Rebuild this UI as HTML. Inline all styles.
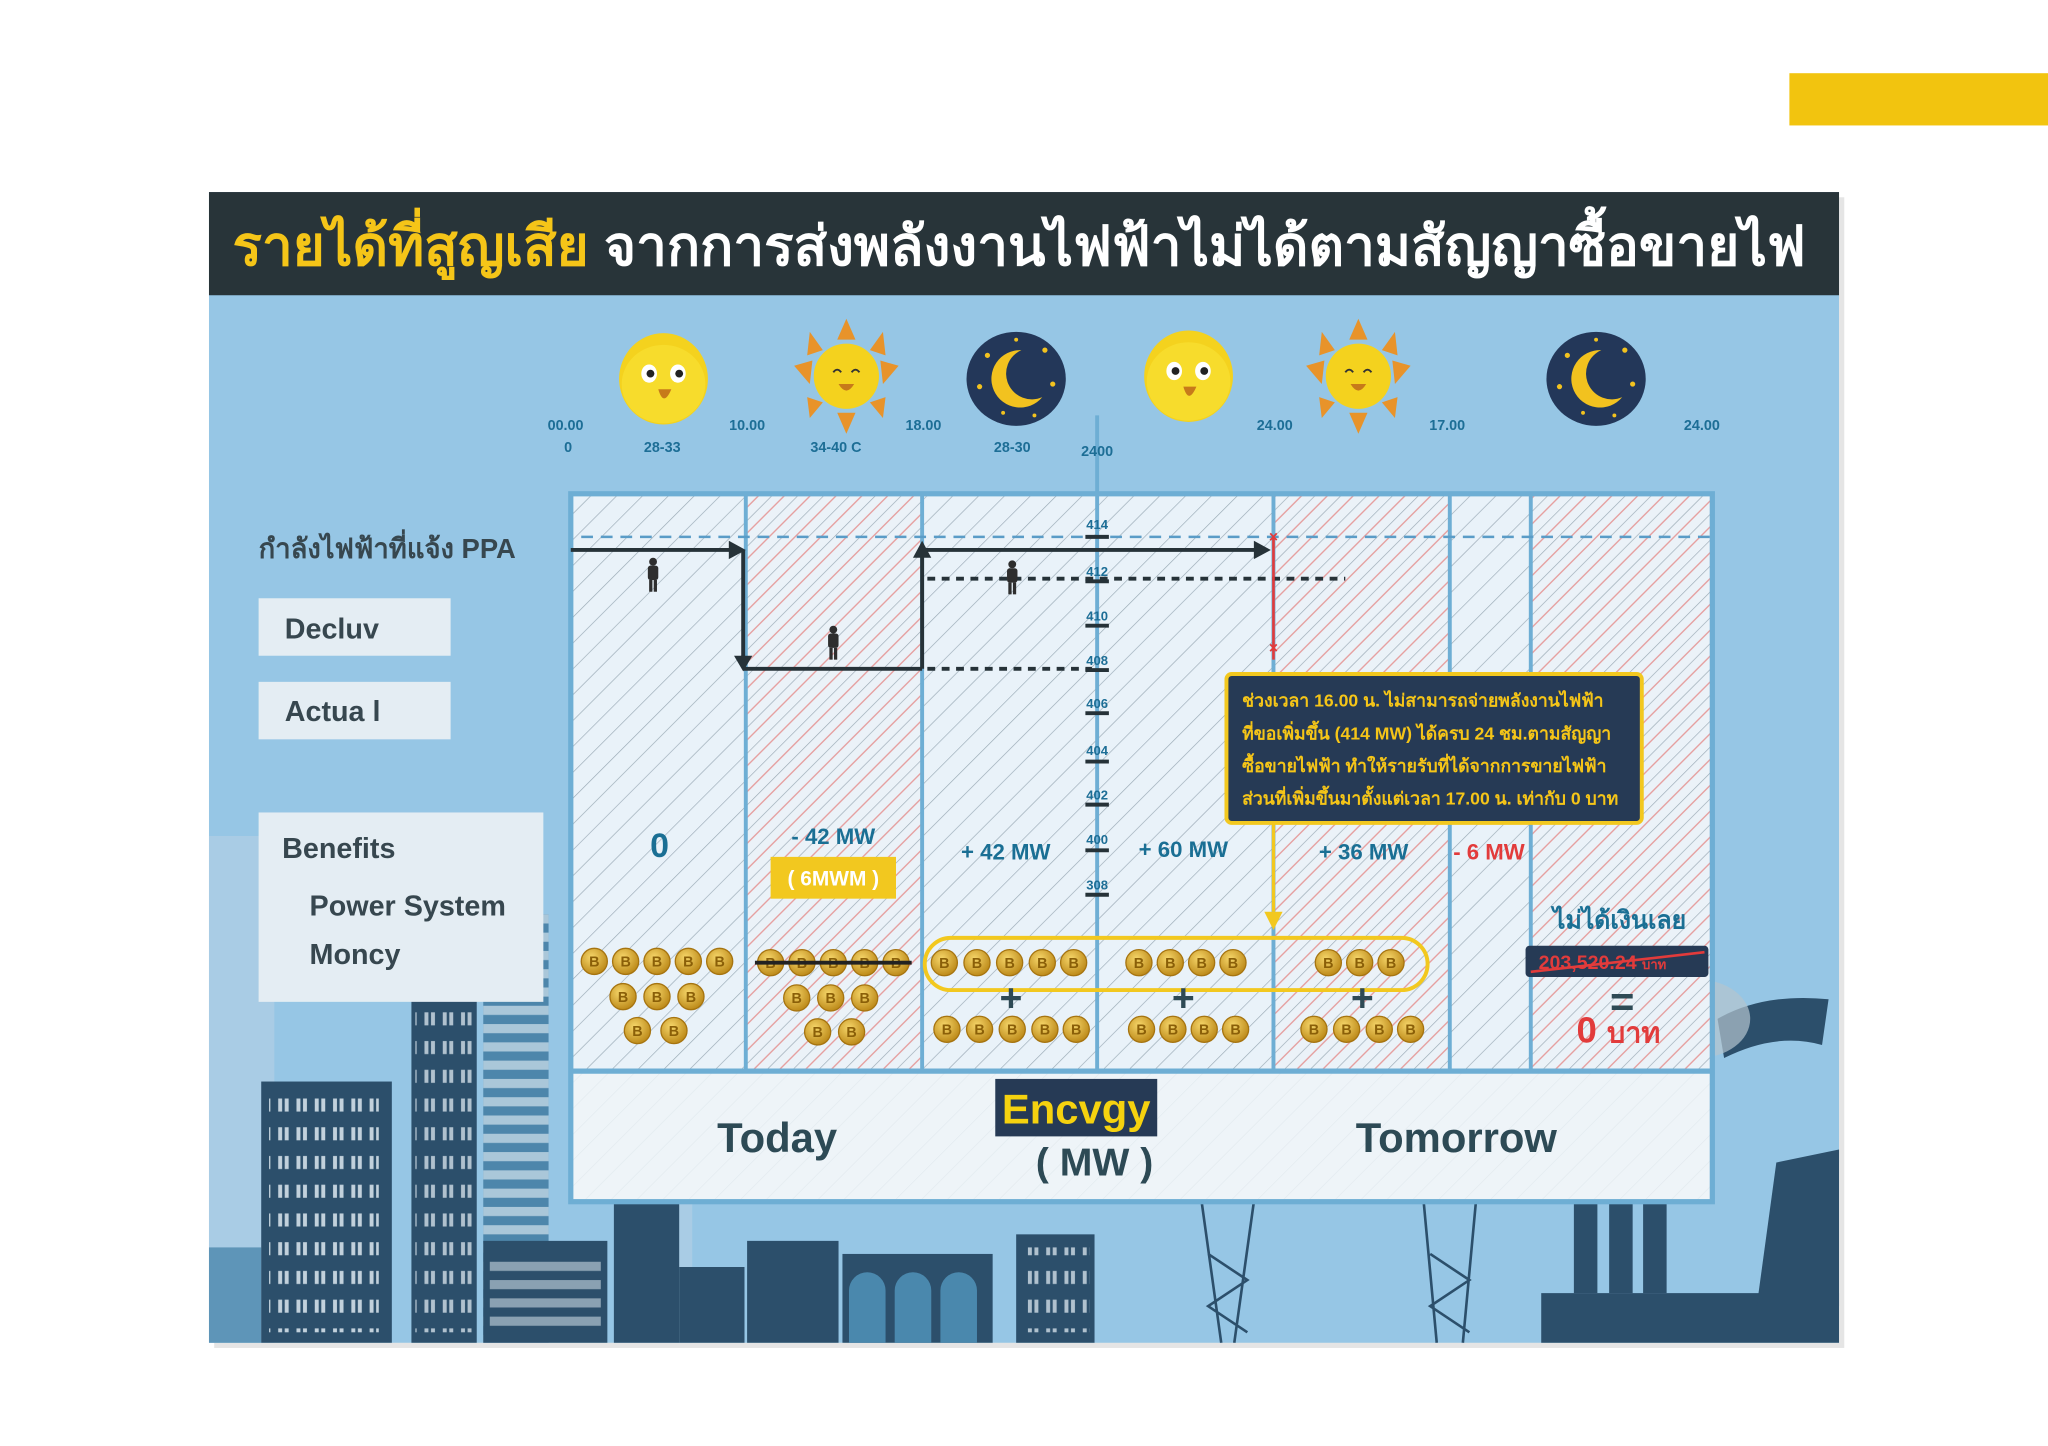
<!DOCTYPE html>
<html><head><meta charset="utf-8">
<style>
html,body{margin:0;padding:0;background:#fff;width:2048px;height:1446px;overflow:hidden}
svg{display:block}
text{font-family:"Liberation Sans Narrow","Liberation Sans","Noto Sans CJK SC",sans-serif;font-weight:bold}
</style></head><body>
<svg width="2048" height="1446" viewBox="0 0 1568 1107" xmlns="http://www.w3.org/2000/svg">
<defs>
<pattern id="hg" width="14" height="14" patternUnits="userSpaceOnUse" patternTransform="rotate(45)">
<rect width="14" height="14" fill="#e9f2f9"/><line x1="0" y1="0" x2="0" y2="14" stroke="#9aaab5" stroke-width="1"/></pattern>
<pattern id="hr" width="14" height="14" patternUnits="userSpaceOnUse" patternTransform="rotate(45)">
<rect width="14" height="14" fill="#ebf2f8"/><line x1="0" y1="0" x2="0" y2="14" stroke="#9aaab5" stroke-width="1"/><line x1="7" y1="0" x2="7" y2="14" stroke="#e59a9a" stroke-width="1"/></pattern>
<pattern id="win" width="14" height="22" patternUnits="userSpaceOnUse"><rect x="3" y="5" width="3" height="10" fill="#e8f2f8"/><rect x="8" y="5" width="3" height="10" fill="#e8f2f8"/></pattern>
<pattern id="stripe" width="10" height="14" patternUnits="userSpaceOnUse"><rect width="10" height="7" fill="#e8f2f8"/></pattern>
<radialGradient id="cg" cx="0.4" cy="0.35" r="0.7"><stop offset="0" stop-color="#f6d66a"/><stop offset="1" stop-color="#b98514"/></radialGradient>
<g id="coin"><circle r="10" fill="url(#cg)" stroke="#a67410" stroke-width="1"/><text x="0" y="4" font-size="11" fill="#8a5f08" text-anchor="middle">B</text></g>
<g id="sm"><ellipse rx="34" ry="35" fill="#f4d21e"/><ellipse cx="0" cy="4" rx="32" ry="30" fill="#f7dc2c"/><ellipse cx="-11" cy="-4" rx="6" ry="7" fill="#fff"/><ellipse cx="11" cy="-4" rx="6" ry="7" fill="#fff"/><circle cx="-10" cy="-4" r="3" fill="#222"/><circle cx="12" cy="-4" r="3" fill="#222"/><path d="M-4 8 Q0 22 6 8 Z" fill="#c77a1a"/></g>
<g id="sun"><g fill="#e8932a"><polygon points="0,-44 -7,-28 7,-28"/><polygon points="0,44 -7,28 7,28"/><polygon points="-40,-8 -26,-12 -28,6"/><polygon points="40,-8 26,-12 28,6"/><polygon points="-28,-34 -18,-20 -30,-16"/><polygon points="28,-34 18,-20 30,-16"/><polygon points="-28,32 -18,20 -30,16"/><polygon points="28,32 18,20 30,16"/></g><circle r="25" fill="#f4d21e"/><path d="M-10 -3 q3 -4 6 0 M4 -3 q3 -4 6 0" stroke="#333" stroke-width="1.5" fill="none"/><path d="M-6 6 Q0 16 6 6 Z" fill="#c77a1a"/></g>
<g id="moon"><ellipse rx="38" ry="36" fill="#233759"/><path d="M4 -22 A22 22 0 1 0 20 14 A18 18 0 1 1 4 -22 Z" fill="#f2c21f"/><g fill="#f2c21f"><circle cx="-22" cy="-18" r="2"/><circle cx="22" cy="-22" r="2"/><circle cx="28" cy="4" r="2"/><circle cx="-28" cy="6" r="2"/><circle cx="-10" cy="26" r="1.5"/><circle cx="14" cy="28" r="1.5"/><circle cx="0" cy="-30" r="1.5"/></g></g>
<g id="man" fill="#2e2e2e"><circle cx="0" cy="-10" r="3"/><rect x="-4" y="-7" width="8" height="11" rx="2"/><rect x="-3" y="4" width="2.5" height="9"/><rect x="0.5" y="4" width="2.5" height="9"/></g>
</defs>

<rect x="1370" y="56" width="198" height="40" fill="#f2c40f"/>
<rect x="164" y="151" width="1248" height="881" fill="#ccc" opacity="0.5"/>
<rect x="160" y="147" width="1248" height="881" fill="#96c6e5"/>
<rect x="160" y="147" width="1248" height="79" fill="#283439"/>
<text x="178" y="203" font-size="42" fill="#f5c518">รายได้ที่สูญเสีย <tspan fill="#fff">จากการส่งพลังงานไฟฟ้าไม่ได้ตามสัญญาซื้อขายไฟ</tspan></text>

<!-- background city -->
<g fill="#a9cce5">
<rect x="160" y="640" width="50" height="388"/><rect x="470" y="800" width="60" height="228"/>
</g>
<rect x="160" y="955" width="40" height="73" fill="#5e95b8"/>
<rect x="370" y="700" width="50" height="328" fill="#4d86ab"/><rect x="370" y="700" width="50" height="328" fill="url(#stripe)" opacity="0.6"/>
<g fill="#2c4f6b">
<rect x="200" y="828" width="100" height="200"/><rect x="315" y="750" width="50" height="278"/><rect x="370" y="950" width="95" height="78"/><rect x="470" y="920" width="50" height="108"/>
<rect x="520" y="970" width="50" height="58"/><rect x="572" y="950" width="70" height="78"/><rect x="645" y="960" width="115" height="68"/><rect x="778" y="945" width="60" height="83"/>
<rect x="1180" y="990" width="228" height="38"/><rect x="1205" y="900" width="18" height="90"/><rect x="1232" y="900" width="18" height="90"/><rect x="1258" y="900" width="18" height="90"/>
<polygon points="1345,1000 1360,890 1408,880 1408,1000"/>
</g>
<rect x="206" y="840" width="84" height="180" fill="url(#win)" opacity="0.8"/>
<rect x="318" y="760" width="44" height="260" fill="url(#win)" opacity="0.7"/>
<rect x="375" y="960" width="85" height="60" fill="url(#stripe)" opacity="0.5"/>
<rect x="782" y="955" width="52" height="65" fill="url(#win)" opacity="0.7"/>
<g fill="#4a88ad"><path d="M650 1028 v-40 a14 14 0 0 1 28 0 v40 z M685 1028 v-40 a14 14 0 0 1 28 0 v40 z M720 1028 v-40 a14 14 0 0 1 28 0 v40 z"/></g>
<g stroke="#2c4f6b" stroke-width="2" fill="none"><path d="M920 920 L935 1028 M960 920 L945 1028 M925 960 L955 980 L925 1000 L955 1020"/><path d="M1090 920 L1100 1028 M1130 920 L1120 1028 M1095 960 L1125 980 L1095 1000 L1125 1020"/></g>
<path d="M1315 780 Q1350 760 1400 765 L1395 800 Q1360 790 1320 810 Z" fill="#2c4f6b"/>
<ellipse cx="1300" cy="780" rx="40" ry="30" fill="#b4c4cf" opacity="0.7"/>

<!-- chart box -->
<rect x="437" y="378" width="874" height="542" fill="url(#hg)"/>
<rect x="571" y="378" width="135" height="442" fill="url(#hr)"/>
<rect x="975" y="378" width="135" height="442" fill="url(#hr)"/>
<rect x="1172" y="378" width="139" height="442" fill="url(#hr)"/>
<rect x="437" y="820" width="874" height="100" fill="#eef4f8" opacity="0.85"/>
<rect x="437" y="378" width="874" height="542" fill="none" stroke="#6eaed4" stroke-width="4"/>
<line x1="437" y1="820" x2="1311" y2="820" stroke="#6eaed4" stroke-width="4"/>
<g stroke="#6eaed4" stroke-width="3">
<line x1="571" y1="378" x2="571" y2="820"/><line x1="706" y1="378" x2="706" y2="820"/><line x1="975" y1="378" x2="975" y2="820"/><line x1="1110" y1="378" x2="1110" y2="820"/><line x1="1172" y1="378" x2="1172" y2="820"/>
<line x1="840" y1="318" x2="840" y2="820"/>
</g>
<line x1="445" y1="411" x2="1311" y2="411" stroke="#5a9cc7" stroke-width="2" stroke-dasharray="9,6"/>

<use href="#sm" x="508" y="290"/><use href="#sun" x="648" y="288"/><use href="#moon" x="778" y="290"/><use href="#sm" x="910" y="288"/><use href="#sun" x="1040" y="288"/><use href="#moon" x="1222" y="290"/>
<g font-size="11" fill="#1d6e96" text-anchor="middle">
<text x="433" y="329">00.00</text><text x="435" y="346">0</text><text x="507" y="346">28-33</text><text x="572" y="329">10.00</text><text x="640" y="346">34-40 C</text><text x="707" y="329">18.00</text><text x="775" y="346">28-30</text><text x="840" y="349">2400</text><text x="976" y="329">24.00</text><text x="1108" y="329">17.00</text><text x="1303" y="329">24.00</text>
</g>

<g stroke="#263238" stroke-width="3"><line x1="831" y1="411" x2="849" y2="411"/><line x1="831" y1="445" x2="849" y2="445"/><line x1="831" y1="479" x2="849" y2="479"/><line x1="831" y1="513" x2="849" y2="513"/><line x1="831" y1="546" x2="849" y2="546"/><line x1="831" y1="583" x2="849" y2="583"/><line x1="831" y1="616" x2="849" y2="616"/><line x1="831" y1="651" x2="849" y2="651"/><line x1="831" y1="685" x2="849" y2="685"/></g>
<g font-size="10" fill="#1d6e96" text-anchor="middle"><text x="840" y="405">414</text><text x="840" y="441">412</text><text x="840" y="475">410</text><text x="840" y="509">408</text><text x="840" y="542">406</text><text x="840" y="578">404</text><text x="840" y="612">402</text><text x="840" y="646">400</text><text x="840" y="681">308</text></g>

<g stroke="#263238" stroke-width="3" fill="none">
<polyline points="437,421 560,421"/><polyline points="569,421 569,503"/><polyline points="569,512 706,512"/><polyline points="706,512 706,425"/><polyline points="706,421 962,421"/>
</g>
<g fill="#263238"><polygon points="558,414 571,421 558,428"/><polygon points="562,502 569,514 576,502"/><polygon points="699,427 706,414 713,427"/><polygon points="960,414 973,421 960,428"/></g>
<g stroke="#263238" stroke-width="3" stroke-dasharray="6,5"><line x1="710" y1="512" x2="836" y2="512"/><line x1="710" y1="443" x2="1030" y2="443"/></g>
<use href="#man" x="500" y="440"/><use href="#man" x="638" y="492"/><use href="#man" x="775" y="442"/>

<line x1="975" y1="411" x2="975" y2="505" stroke="#e23b3b" stroke-width="2"/>
<text x="975" y="415" font-size="12" fill="#e23b3b" text-anchor="middle">×</text><text x="975" y="500" font-size="12" fill="#e23b3b" text-anchor="middle">×</text>
<line x1="975" y1="628" x2="975" y2="698" stroke="#f2c81f" stroke-width="2.5"/>
<polygon points="968,698 982,698 975,712" fill="#f2c81f"/>

<rect x="939" y="516" width="318" height="114" rx="4" fill="#263a55" stroke="#f2c81f" stroke-width="3"/>
<g font-size="13.5" fill="#f5c518" font-weight="normal"><text x="951" y="541">ช่วงเวลา 16.00 น. ไม่สามารถจ่ายพลังงานไฟฟ้า</text><text x="951" y="566">ที่ขอเพิ่มขึ้น (414 MW) ได้ครบ 24 ชม.ตามสัญญา</text><text x="951" y="591">ซื้อขายไฟฟ้า ทำให้รายรับที่ได้จากการขายไฟฟ้า</text><text x="951" y="616">ส่วนที่เพิ่มขึ้นมาตั้งแต่เวลา 17.00 น. เท่ากับ 0 บาท</text></g>

<text x="198" y="427" font-size="21" fill="#37474f">กำลังไฟฟ้าที่แจ้ง PPA</text>
<rect x="198" y="458" width="147" height="44" fill="#e4edf3"/><text x="218" y="489" font-size="22" fill="#37474f">Decluv</text>
<rect x="198" y="522" width="147" height="44" fill="#e4edf3"/><text x="218" y="552" font-size="22" fill="#37474f">Actua l</text>
<rect x="198" y="622" width="218" height="145" fill="#e4edf3"/>
<text x="216" y="657" font-size="22" fill="#37474f">Benefits</text><text x="237" y="701" font-size="22" fill="#37474f">Power System</text><text x="237" y="738" font-size="22" fill="#37474f">Moncy</text>

<g fill="#1a6f94" text-anchor="middle">
<text x="505" y="656" font-size="26">0</text><text x="638" y="646" font-size="17">- 42 MW</text><text x="770" y="658" font-size="17">+ 42 MW</text><text x="906" y="656" font-size="17">+ 60 MW</text><text x="1044" y="658" font-size="17">+ 36 MW</text>
</g>
<text x="1140" y="658" font-size="17" fill="#e23b3b" text-anchor="middle">- 6 MW</text>
<rect x="590" y="656" width="96" height="32" fill="#f2c81f"/><text x="638" y="678" font-size="16" fill="#fff" text-anchor="middle">( 6MWM )</text>

<g>
<use href="#coin" x="455" y="736"/><use href="#coin" x="479" y="736"/><use href="#coin" x="503" y="736"/><use href="#coin" x="527" y="736"/><use href="#coin" x="551" y="736"/>
<use href="#coin" x="477" y="763"/><use href="#coin" x="503" y="763"/><use href="#coin" x="529" y="763"/><use href="#coin" x="488" y="789"/><use href="#coin" x="516" y="789"/>
<use href="#coin" x="590" y="737"/><use href="#coin" x="614" y="737"/><use href="#coin" x="638" y="737"/><use href="#coin" x="662" y="737"/><use href="#coin" x="686" y="737"/>
<use href="#coin" x="610" y="764"/><use href="#coin" x="636" y="764"/><use href="#coin" x="662" y="764"/><use href="#coin" x="626" y="790"/><use href="#coin" x="652" y="790"/>
<use href="#coin" x="723" y="737"/><use href="#coin" x="748" y="737"/><use href="#coin" x="773" y="737"/><use href="#coin" x="798" y="737"/><use href="#coin" x="822" y="737"/>
<use href="#coin" x="725" y="788"/><use href="#coin" x="750" y="788"/><use href="#coin" x="775" y="788"/><use href="#coin" x="800" y="788"/><use href="#coin" x="824" y="788"/>
<use href="#coin" x="872" y="737"/><use href="#coin" x="896" y="737"/><use href="#coin" x="920" y="737"/><use href="#coin" x="944" y="737"/>
<use href="#coin" x="874" y="788"/><use href="#coin" x="898" y="788"/><use href="#coin" x="922" y="788"/><use href="#coin" x="946" y="788"/>
<use href="#coin" x="1017" y="737"/><use href="#coin" x="1041" y="737"/><use href="#coin" x="1065" y="737"/>
<use href="#coin" x="1006" y="788"/><use href="#coin" x="1031" y="788"/><use href="#coin" x="1056" y="788"/><use href="#coin" x="1080" y="788"/>
</g>
<line x1="578" y1="737" x2="698" y2="737" stroke="#222" stroke-width="3"/>
<rect x="708" y="718" width="385" height="40" rx="20" fill="none" stroke="#f2c81f" stroke-width="3"/>
<g fill="#2e4a55" font-size="30" text-anchor="middle"><text x="774" y="774">+</text><text x="906" y="774">+</text><text x="1043" y="774">+</text></g>

<text x="1240" y="711" font-size="19" fill="#1a6f94" text-anchor="middle">ไม่ได้เงินเลย</text>
<rect x="1168" y="724" width="140" height="24" rx="3" fill="#263a55"/>
<text x="1178" y="742" font-size="15" fill="#e23b3b">203,520.24 <tspan font-size="10">บาท</tspan></text>
<line x1="1172" y1="744" x2="1305" y2="729" stroke="#e23b3b" stroke-width="2"/>
<text x="1242" y="778" font-size="32" fill="#2e4a55" text-anchor="middle">=</text>
<text x="1207" y="798" font-size="28" fill="#e23b3b">0 <tspan font-size="22">บาท</tspan></text>

<text x="595" y="882" font-size="32" fill="#2d4a55" text-anchor="middle">Today</text>
<rect x="762" y="826" width="124" height="44" fill="#263a55"/>
<text x="824" y="860" font-size="32" fill="#f5d20f" text-anchor="middle">Encvgy</text>
<text x="838" y="900" font-size="30" fill="#2d4a55" text-anchor="middle">( MW )</text>
<text x="1115" y="882" font-size="32" fill="#2d4a55" text-anchor="middle">Tomorrow</text>
</svg>
</body></html>
